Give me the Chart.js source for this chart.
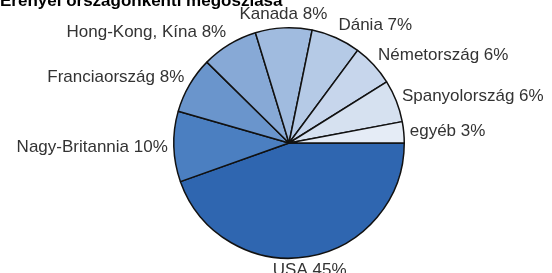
<!DOCTYPE html>
<html>
<head>
<meta charset="utf-8">
<script src="https://cdn.jsdelivr.net/npm/chart.js@4/dist/chart.umd.min.js"></script>
<style>
  html, body { margin: 0; padding: 0; background: #fff; }
  #wrap { width: 552px; height: 273px; position: relative; }
</style>
</head>
<body>
<div id="wrap"><canvas id="pieChart"></canvas></div>
<script>
// Data
const countries = ['USA', 'Nagy-Britannia', 'Franciaország', 'Hong-Kong, Kína', 'Kanada', 'Dánia', 'Németország', 'Spanyolország', 'egyéb'];
const shares = [45, 10, 8, 8, 8, 7, 6, 6, 3];
const sliceColors = ['#2f66b0', '#4b7fc1', '#6a95cc', '#87a9d6', '#a0bbdf', '#b5cae6', '#c7d6ec', '#d6e1f0', '#e5ecf6'];
const chartTitle = 'Erényei országonkénti megoszlása';

// Labels outside the slices, Excel style
const outsideLabels = {
    id: 'outsideLabels',
    afterDatasetsDraw(chart) {
        const ctx = chart.ctx;
        const meta = chart.getDatasetMeta(0);
        ctx.save();
        ctx.font = '17px "Liberation Sans", Arial, sans-serif';
        ctx.fillStyle = '#333';
        ctx.textBaseline = 'middle';
        ctx.textAlign = 'left';
        meta.data.forEach((arc, i) => {
            const mid = (arc.startAngle + arc.endAngle) / 2;
            const r = arc.outerRadius + 6;
            const cos = Math.cos(mid), sin = Math.sin(mid);
            const ax = arc.x + cos * r;
            const ay = arc.y + sin * r;
            const text = countries[i] + ' ' + shares[i] + '%';
            const w = ctx.measureText(text).width;
            let f = 0.5;
            if (cos > 0.35) f = 0;
            else if (cos < -0.35) f = 1;
            ctx.fillText(text, ax - w * f, ay + sin * 8);
        });
        // cut-off title at the very top
        ctx.font = 'bold 17px "Liberation Sans", Arial, sans-serif';
        ctx.fillStyle = '#000';
        ctx.textBaseline = 'alphabetic';
        ctx.fillText(chartTitle, 0, 6);
        ctx.restore();
    }
};

const pieCtx = document.getElementById('pieChart').getContext('2d');
new Chart(pieCtx, {
    type: 'pie',
    data: {
        labels: countries,
        datasets: [{
            data: shares,
            backgroundColor: sliceColors,
            borderColor: '#111',
            borderWidth: 1.5
        }]
    },
    options: {
        responsive: true,
        maintainAspectRatio: false,
        animation: false,
        rotation: 90,
        layout: {
            padding: { top: 27, bottom: 14, left: 26, right: 0 }
        },
        plugins: {
            legend: { display: false },
            tooltip: { enabled: false }
        }
    },
    plugins: [outsideLabels]
});
</script>
</body>
</html>
